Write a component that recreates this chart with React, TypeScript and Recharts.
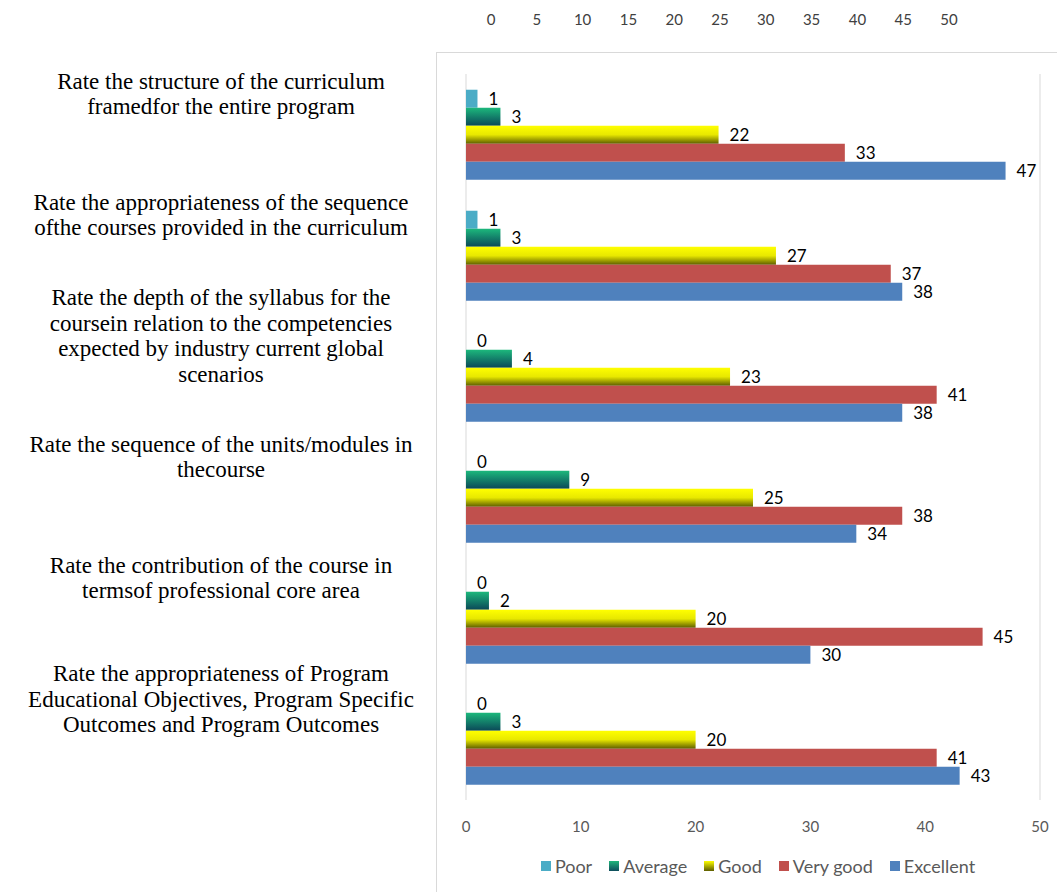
import React from 'react'
import { BarChart, Bar, XAxis, YAxis, CartesianGrid, LabelList, Legend } from 'recharts'

const categories = [
  'Rate the structure of the curriculum\nframedfor the entire program',
  'Rate the appropriateness of the sequence\nofthe courses provided in the curriculum',
  'Rate the depth of the syllabus for the\ncoursein relation to the competencies\nexpected by industry current global\nscenarios',
  'Rate the sequence of the units/modules in\nthecourse',
  'Rate the contribution of the course in\ntermsof professional core area',
  'Rate the appropriateness of Program\nEducational Objectives, Program Specific\nOutcomes and Program Outcomes',
]

const poor = [1, 1, 0, 0, 0, 0]
const average = [3, 3, 4, 9, 2, 3]
const good = [22, 27, 23, 25, 20, 20]
const veryGood = [33, 37, 41, 38, 45, 41]
const excellent = [47, 38, 38, 34, 30, 43]

const bottomTicks = [0, 10, 20, 30, 40, 50]
const topTicks = [0, 5, 10, 15, 20, 25, 30, 35, 40, 45, 50]
// the stray top scale in the original is narrower than the real one
const topDomain = [-2.73, 59.93]

const SERIES = [
  { key: 'poor', name: 'Poor', fill: '#4bacc6', swatch: '#4bacc6' },
  { key: 'average', name: 'Average', fill: 'url(#gradAverage)', swatch: 'linear-gradient(#1fb57a, #0f4d5c)' },
  { key: 'good', name: 'Good', fill: 'url(#gradGood)', swatch: 'linear-gradient(#ffff00, #5e5e00)' },
  { key: 'veryGood', name: 'Very good', fill: '#c0504d', swatch: '#c0504d' },
  { key: 'excellent', name: 'Excellent', fill: '#4f81bd', swatch: '#4f81bd' },
]

const rows = categories.map((name, i) => ({
  name,
  poor: poor[i],
  average: average[i],
  good: good[i],
  veryGood: veryGood[i],
  excellent: excellent[i],
}))

const SANS = 'Lato, "Open Sans", sans-serif'
const SERIF = '"Liberation Serif", "Times New Roman", serif'

// zero values still need their label, so give them an invisible sliver
const zeroSliver = (v: any) => (v === 0 ? 0.01 : 0)

// category text sits above the middle of its group, like the original
const CategoryTick = (props: any) => {
  const { y, payload } = props
  const lines: string[] = String(payload.value).split('\n')
  const lh = 25.5
  const center = y - 40
  const first = center - ((lines.length - 1) * lh) / 2 + 7
  return (
    <text x={221} y={first} textAnchor="middle" fontFamily={SERIF} fontSize={23} fill="#000">
      {lines.map((l, i) => (
        <tspan key={i} x={221} y={first + i * lh}>
          {l}
        </tspan>
      ))}
    </text>
  )
}

const LegendContent = () => (
  <div style={{ display: 'flex', justifyContent: 'center', gap: 17, fontFamily: SANS, fontSize: 18, color: '#595959' }}>
    {SERIES.map((s) => (
      <div key={s.key} style={{ display: 'flex', alignItems: 'center', gap: 4 }}>
        <div style={{ width: 10, height: 10, background: s.swatch }} />
        <span>{s.name}</span>
      </div>
    ))}
  </div>
)

export default function App() {
  return (
    <div style={{ position: 'absolute', left: 0, top: 0, width: 1057, height: 892, background: '#fff', overflow: 'hidden' }}>
      {/* chart frame */}
      <div
        style={{
          position: 'absolute',
          left: 436,
          top: 52,
          width: 700,
          height: 900,
          border: '1px solid #d9d9d9',
        }}
      />

      <div style={{ position: 'absolute', left: 0, top: 0 }}>
        <BarChart
          width={1057}
          height={892}
          data={rows}
          layout="vertical"
          barCategoryGap="13%"
          barGap={0}
          margin={{ top: 14, right: 17, left: 0, bottom: 58 }}
        >
          <defs>
            <linearGradient id="gradAverage" x1="0" y1="0" x2="0" y2="1">
              <stop offset="0%" stopColor="#1cb87c" />
              <stop offset="100%" stopColor="#0b4858" />
            </linearGradient>
            <linearGradient id="gradGood" x1="0" y1="0" x2="0" y2="1">
              <stop offset="0%" stopColor="#ffff00" />
              <stop offset="50%" stopColor="#e8e800" />
              <stop offset="100%" stopColor="#5e5e00" />
            </linearGradient>
          </defs>
          <CartesianGrid horizontal={false} stroke="#d9d9d9" />
          <XAxis
            xAxisId="top"
            orientation="top"
            type="number"
            domain={topDomain}
            allowDataOverflow
            ticks={topTicks}
            height={60}
            axisLine={false}
            tickLine={false}
            tickMargin={43}
            tick={{ fontSize: 15, fill: '#404040', fontFamily: SANS }}
          />
          <XAxis
            xAxisId="main"
            type="number"
            domain={[0, 50]}
            ticks={bottomTicks}
            height={34}
            axisLine={false}
            tickLine={false}
            tickMargin={15}
            tick={{ fontSize: 15, fill: '#595959', fontFamily: SANS }}
          />
          <YAxis
            type="category"
            dataKey="name"
            width={466}
            axisLine={false}
            tickLine={false}
            interval={0}
            tick={<CategoryTick />}
          />
          <Legend
            layout="horizontal"
            verticalAlign="middle"
            align="center"
            content={<LegendContent />}
            wrapperStyle={{ position: 'absolute', top: 855, left: 466, width: 584 }}
          />
          {SERIES.map((s) => (
            <Bar
              key={s.key}
              xAxisId="main"
              dataKey={s.key}
              name={s.name}
              fill={s.fill}
              minPointSize={zeroSliver}
              isAnimationActive={false}
            >
              <LabelList
                dataKey={s.key}
                position="right"
                offset={11}
                fill="#000"
                fontSize={17}
                fontFamily={SANS}
              />
            </Bar>
          ))}
        </BarChart>
      </div>
    </div>
  )
}
